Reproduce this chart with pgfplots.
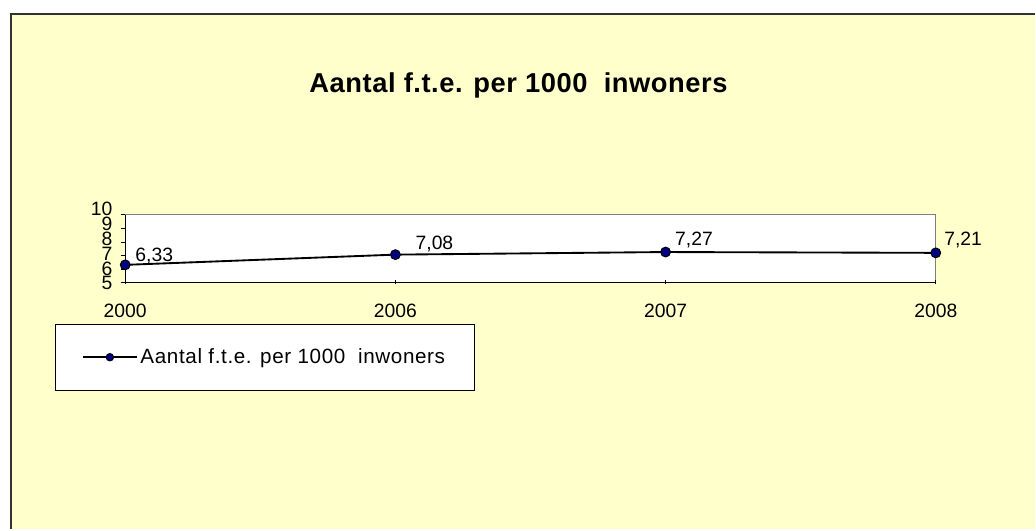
\documentclass[border=0pt]{standalone}
\usepackage{fontspec}
\setmainfont{Liberation Sans}
\usepackage{pgfplots}
\usepackage{pgfplotstable}
\pgfplotsset{compat=1.18}

\definecolor{bgyellow}{HTML}{FFFFCC}
\definecolor{navymark}{HTML}{000080}
\newcommand\tickfont{\fontsize{14.5}{17}\selectfont}
\newcommand\legfont{\fontsize{15.5}{18}\selectfont\addfontfeatures{LetterSpace=3}}
\newcommand\titlefont{\fontsize{20.5}{24}\selectfont\bfseries\addfontfeatures{LetterSpace=2}}

% year index, value, label offsets (pt)
\pgfplotstableread{
x y dx dy
0 6.33 7.5 2.25
1 7.08 15 4
2 7.27 7 5
3 7.21 6.2 5.2
}\fteTable

\begin{document}
\begin{tikzpicture}
\fill[white] (0pt,0pt) rectangle (777pt,-397.5pt);
\fill[bgyellow] (7.5pt,-9.75pt) rectangle (777pt,-397.5pt);
\draw[line width=1.5pt,black!80] (8.25pt,-397.5pt) -- (8.25pt,-10.5pt) -- (777pt,-10.5pt);
\node[font=\titlefont] at (389.25pt,-64.5pt) {Aantal f.t.e. per 1000~ inwoners};

\begin{axis}[at={(94pt,-161.25pt)}, anchor=north west,
  scale only axis, width=608.5pt, height=51.2pt,
  xmin=0, xmax=3, ymin=5, ymax=10,
  xtick={0,1,2,3}, xticklabels={2000,2006,2007,2008},
  ytick={5,6,7,8,9,10},
  yticklabels={5,\raisebox{0.92pt}{6},\raisebox{1.84pt}{7},\raisebox{2.76pt}{8},\raisebox{3.68pt}{9},\raisebox{4.6pt}{10}},
  axis lines*=left,
  axis line style={black, line width=0.75pt},
  axis background/.style={fill=white, draw=gray, line width=0.75pt},
  tick align=outside, major tick length=3.4pt,
  every tick/.style={black, line width=0.75pt},
  x tick style={yshift=2.5pt},
  /pgf/number format/assume math mode=true,
  tick label style={font=\tickfont, inner sep=0pt},
  xticklabel style={anchor=north, yshift=-12.35pt},
  yticklabel style={anchor=base east, xshift=-6pt, yshift=-5.2pt},
  clip=false,
  legend cell align=left,
  legend style={at={(-0.0867,-0.597)}, anchor=north west,
    draw=black, fill=white, line width=0.6pt,
    inner xsep=20pt, inner ysep=16.5pt, font=\legfont,
    /tikz/every even column/.append style={column sep=1pt}},
  legend image code/.code={\draw[#1, mark size=2.8pt, mark repeat=2, mark phase=2]
    plot coordinates {(0pt,0pt) (20.25pt,0pt) (40.5pt,0pt)};},
]
\addplot[black, line width=1.4pt, mark=*, mark size=3.7pt,
  mark options={fill=navymark, draw=black, line width=0.7pt}]
  table[x=x, y=y] {\fteTable};
\addlegendentry{Aantal f.t.e. per 1000~ inwoners}

\addplot[forget plot, draw=none, mark=none,
  point meta=explicit,
  visualization depends on={\thisrow{dx} \as \dx},
  visualization depends on={\thisrow{dy} \as \dy},
  nodes near coords={\pgfmathprintnumber[fixed,fixed zerofill,precision=2,use comma]{\pgfplotspointmeta}},
  nodes near coords style={anchor=base west, inner sep=0pt, font=\tickfont,
    xshift=\dx pt, yshift=\dy pt}]
  table[x=x, y=y, meta=y] {\fteTable};
\end{axis}
\end{tikzpicture}
\end{document}
